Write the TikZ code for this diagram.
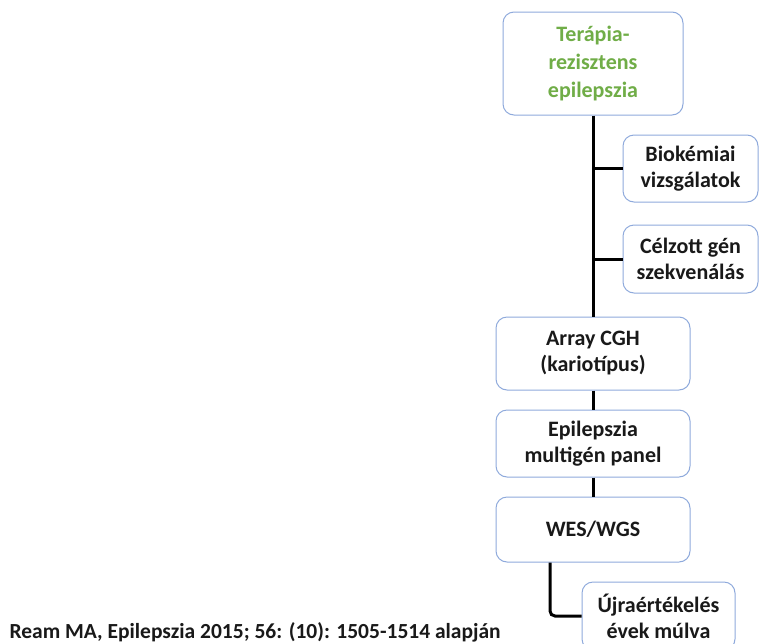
\documentclass[tikz,border=0pt]{standalone}
\usepackage{fontspec}
\setmainfont{Carlito}
\usetikzlibrary{positioning,calc}
\definecolor{boxline}{RGB}{143,170,220}
\definecolor{titlegreen}{RGB}{112,173,71}
\tikzstyle{stepbox} = [rectangle, rounded corners=11pt, draw=boxline, line width=1pt, fill=white, align=center, font=\fontsize{22}{26}\selectfont\bfseries, text=black!90]
\tikzstyle{link} = [line width=3pt, black]

\begin{document}
\begin{tikzpicture}[x=1pt,y=-1pt]
\clip (0,0) rectangle (760,643);
\fill[white] (0,0) rectangle (760,643);

\node (start) [stepbox, minimum width=180pt, minimum height=103pt, text=titlegreen, font=\fontsize{22}{28}\selectfont\bfseries] at (593,63.5) {Terápia-\\rezisztens\\epilepszia};
\node (bio) [stepbox, minimum width=135pt, minimum height=67pt] at (690.5,168.5) {Biokémiai\\vizsgálatok};
\node (target) [stepbox, minimum width=135pt, minimum height=68pt] at (690.5,259) {Célzott gén\\szekvenálás};
\node (cgh) [stepbox, minimum width=194pt, minimum height=73pt] at (593,353.5) {Array CGH\\(kariotípus)};
\node (panel) [stepbox, minimum width=194pt, minimum height=67pt] at (593,443.5) {Epilepszia\\multigén panel};
\node (wes) [stepbox, minimum width=194pt, minimum height=65pt] at (593,529.5) {WES/WGS};
\node (reeval) [stepbox, minimum width=153pt, minimum height=68pt] at (658.5,616) {Újraértékelés\\évek múlva};
\node (source) [anchor=west, font=\fontsize{21.5}{26}\selectfont\bfseries, text=black!90] at (6,632) {Ream MA, Epilepszia 2015; 56: (10): 1505-1514 alapján};

\coordinate (fork) at ($(wes.south)+(-43,0)$);

\draw [link] (start) -- (cgh);
\draw [link] (bio.west) -- (bio.west -| start.south);
\draw [link] (target.west) -- (target.west -| start.south);
\draw [link] (cgh) -- (panel);
\draw [link] (panel) -- (wes);
\draw [link, rounded corners=5pt] (fork) |- (reeval.west);

\end{tikzpicture}
\end{document}
